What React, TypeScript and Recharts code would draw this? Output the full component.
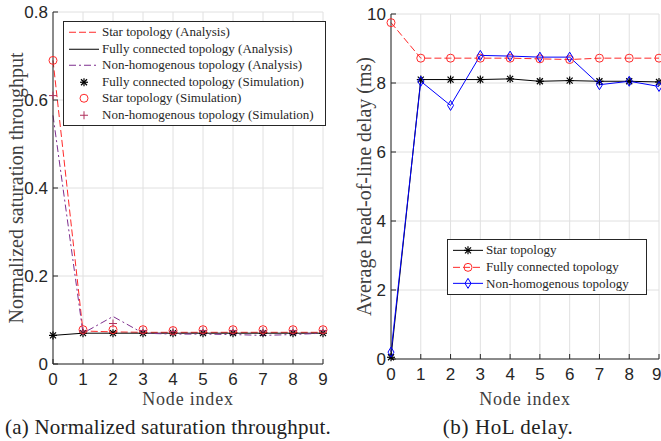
import React from 'react';
import { LineChart, Line, XAxis, YAxis, CartesianGrid, Legend } from 'recharts';

// node indices shared by both panels
const nodes = [0, 1, 2, 3, 4, 5, 6, 7, 8, 9];

// (a) normalized saturation throughput
const starAnalysis = [0.69, 0.075, 0.073, 0.072, 0.072, 0.072, 0.072, 0.072, 0.072, 0.072];
const fullAnalysis = [0.065, 0.07, 0.07, 0.07, 0.07, 0.07, 0.07, 0.07, 0.07, 0.07];
const nonHomAnalysis = [0.565, 0.07, 0.108, 0.07, 0.068, 0.068, 0.067, 0.065, 0.067, 0.07];
const fullSimulation = [0.065, 0.07, 0.07, 0.07, 0.07, 0.07, 0.07, 0.07, 0.07, 0.07];
const starSimulation = [0.69, 0.078, 0.078, 0.078, 0.076, 0.078, 0.078, 0.078, 0.078, 0.078];
const nonHomSimulation = [0.61, 0.075, 0.092, 0.076, 0.074, 0.076, 0.076, 0.075, 0.076, 0.076];
const throughputTicks = [0, 0.2, 0.4, 0.6, 0.8];

// (b) HoL delay (ms)
const starDelay = [0.05, 8.1, 8.1, 8.1, 8.12, 8.05, 8.07, 8.05, 8.05, 8.03];
const fullDelay = [9.75, 8.72, 8.72, 8.72, 8.72, 8.7, 8.68, 8.72, 8.72, 8.72];
const nonHomDelay = [0.2, 8.05, 7.35, 8.8, 8.78, 8.75, 8.75, 7.95, 8.05, 7.9];
const delayTicks = [0, 2, 4, 6, 8, 10];

const throughputData = nodes.map((n, i) => ({
  node: n,
  starA: starAnalysis[i],
  fullA: fullAnalysis[i],
  nonA: nonHomAnalysis[i],
  fullS: fullSimulation[i],
  starS: starSimulation[i],
  nonS: nonHomSimulation[i],
}));

const delayData = nodes.map((n, i) => ({
  node: n,
  star: starDelay[i],
  full: fullDelay[i],
  nonHom: nonHomDelay[i],
}));

const RED = '#ff2a2a';
const PURPLE = '#7e2f8e';
const PLUS = '#b0305c';
const BLUE = '#0000ff';
const AXIS = '#262626';
const GRID = '#e0e0e0';
const SERIF = '"Liberation Serif", "Times New Roman", serif';
const SANS = '"Liberation Sans", Arial, sans-serif';

type MarkerKind = 'asterisk' | 'circle' | 'plus' | 'diamond';

const Marker = ({ kind, cx, cy, color }: { kind: MarkerKind; cx: number; cy: number; color: string }) => {
  const s = 4;
  if (kind === 'circle') return <circle cx={cx} cy={cy} r={s} fill="none" stroke={color} strokeWidth={1} />;
  if (kind === 'diamond')
    return (
      <polygon
        points={`${cx},${cy - s - 1} ${cx + s - 1},${cy} ${cx},${cy + s + 1} ${cx - s + 1},${cy}`}
        fill="none"
        stroke={color}
        strokeWidth={1}
      />
    );
  if (kind === 'plus')
    return (
      <g stroke={color} strokeWidth={1}>
        <line x1={cx - s} y1={cy} x2={cx + s} y2={cy} />
        <line x1={cx} y1={cy - s} x2={cx} y2={cy + s} />
      </g>
    );
  const d = s * 0.75;
  return (
    <g stroke={color} strokeWidth={1.2}>
      <line x1={cx - s} y1={cy} x2={cx + s} y2={cy} />
      <line x1={cx} y1={cy - s} x2={cx} y2={cy + s} />
      <line x1={cx - d} y1={cy - d} x2={cx + d} y2={cy + d} />
      <line x1={cx - d} y1={cy + d} x2={cx + d} y2={cy - d} />
    </g>
  );
};

const dotOf = (kind: MarkerKind, color: string) => (props: any) => {
  const { cx, cy, index } = props;
  if (cx == null || cy == null) return <g key={index} />;
  return <Marker key={index} kind={kind} cx={cx} cy={cy} color={color} />;
};

interface LegendItem {
  label: string;
  color: string;
  dash?: string;
  line: boolean;
  marker?: MarkerKind;
}

const BoxLegend = ({ items, rowH, fontSize }: { items: LegendItem[]; rowH: number; fontSize: number }) => (
  <div
    style={{
      border: `1px solid ${AXIS}`,
      background: '#fff',
      padding: '2px 6px 2px 4px',
      fontFamily: SERIF,
      fontSize,
      color: AXIS,
      boxSizing: 'border-box',
    }}
  >
    {items.map((it) => (
      <div key={it.label} style={{ display: 'flex', alignItems: 'center', height: rowH, whiteSpace: 'nowrap' }}>
        <svg width={32} height={rowH} style={{ marginRight: 2 }}>
          {it.line && (
            <line x1={1} y1={rowH / 2} x2={31} y2={rowH / 2} stroke={it.color} strokeWidth={1} strokeDasharray={it.dash} />
          )}
          {it.marker && <Marker kind={it.marker} cx={16} cy={rowH / 2} color={it.color} />}
        </svg>
        <span>{it.label}</span>
      </div>
    ))}
  </div>
);

const throughputLegend: LegendItem[] = [
  { label: 'Star topology (Analysis)', color: RED, dash: '7 3', line: true },
  { label: 'Fully connected topology (Analysis)', color: '#000', line: true },
  { label: 'Non-homogenous topology (Analysis)', color: PURPLE, dash: '7 3 2 3', line: true },
  { label: 'Fully connected topology (Simulation)', color: '#000', line: false, marker: 'asterisk' },
  { label: 'Star topology (Simulation)', color: RED, line: false, marker: 'circle' },
  { label: 'Non-homogenous topology (Simulation)', color: PLUS, line: false, marker: 'plus' },
];

const delayLegend: LegendItem[] = [
  { label: 'Star topology', color: '#000', line: true, marker: 'asterisk' },
  { label: 'Fully connected topology', color: RED, dash: '7 3', line: true, marker: 'circle' },
  { label: 'Non-homogenous topology', color: BLUE, line: true, marker: 'diamond' },
];

const tickStyle = { fontFamily: SANS, fontSize: 17, fill: AXIS };
const titleStyle = { fontFamily: SERIF, fontSize: 20, fill: '#404040' };
const xTitleStyle = { fontFamily: SERIF, fontSize: 18, letterSpacing: 0.8, fill: '#404040' };

const fmt = (v: number) => (v === 0 ? '0' : String(v));

const App: React.FC = () => {
  return (
    <div style={{ position: 'absolute', left: 0, top: 0, width: 661, height: 441, background: '#fff', overflow: 'hidden' }}>
      <div style={{ position: 'absolute', left: 0, top: 0 }}>
        <LineChart width={330} height={441} data={throughputData} margin={{ top: 12, right: 7, left: 0, bottom: 31 }}>
          <CartesianGrid stroke={GRID} />
          <XAxis
            dataKey="node"
            type="number"
            domain={[0, 9]}
            ticks={nodes}
            tick={tickStyle}
            stroke={AXIS}
            tickSize={-5}
            tickMargin={14}
            height={46}
            label={{ value: 'Node index', position: 'insideBottom', offset: 5, style: xTitleStyle }}
          />
          <XAxis xAxisId="top" orientation="top" dataKey="node" type="number" domain={[0, 9]} ticks={nodes} tick={false} height={0} stroke={AXIS} tickSize={-5} />
          <YAxis
            type="number"
            domain={[0, 0.8]}
            ticks={throughputTicks}
            tickFormatter={fmt}
            tick={tickStyle}
            stroke={AXIS}
            tickSize={-5}
            tickMargin={10}
            width={53}
            label={{ value: 'Normalized saturation throughput', angle: -90, position: 'insideLeft', offset: 16, style: { ...titleStyle, textAnchor: 'middle' } }}
          />
          <YAxis yAxisId="right" orientation="right" type="number" domain={[0, 0.8]} ticks={throughputTicks} tick={false} width={0} stroke={AXIS} tickSize={-5} />
          <Legend
            layout="vertical"
            align="center"
            verticalAlign="middle"
            wrapperStyle={{ left: 63, top: 21, width: 263 }}
            content={() => <BoxLegend items={throughputLegend} rowH={16.5} fontSize={13} />}
          />
          <Line dataKey="starA" stroke={RED} strokeDasharray="7 3" dot={false} isAnimationActive={false} />
          <Line dataKey="fullA" stroke="#000" dot={false} isAnimationActive={false} />
          <Line dataKey="nonA" stroke={PURPLE} strokeDasharray="7 3 2 3" dot={false} isAnimationActive={false} />
          <Line dataKey="fullS" stroke="none" dot={dotOf('asterisk', '#000')} isAnimationActive={false} />
          <Line dataKey="starS" stroke="none" dot={dotOf('circle', RED)} isAnimationActive={false} />
          <Line dataKey="nonS" stroke="none" dot={dotOf('plus', PLUS)} isAnimationActive={false} />
        </LineChart>
      </div>
      <div style={{ position: 'absolute', left: 330, top: 0 }}>
        <LineChart width={331} height={441} data={delayData} margin={{ top: 14, right: 2, left: 0, bottom: 31 }}>
          <CartesianGrid stroke={GRID} />
          <XAxis
            dataKey="node"
            type="number"
            domain={[0, 9]}
            ticks={nodes}
            tick={tickStyle}
            stroke={AXIS}
            tickSize={-5}
            tickMargin={14}
            height={51}
            label={{ value: 'Node index', position: 'insideBottom', offset: 5, style: xTitleStyle }}
          />
          <XAxis xAxisId="top" orientation="top" dataKey="node" type="number" domain={[0, 9]} ticks={nodes} tick={false} height={0} stroke={AXIS} tickSize={-5} />
          <YAxis
            type="number"
            domain={[0, 10]}
            ticks={delayTicks}
            tick={tickStyle}
            stroke={AXIS}
            tickSize={-5}
            tickMargin={10}
            width={61}
            label={{ value: 'Average head-of-line delay (ms)', angle: -90, position: 'insideLeft', offset: 34, style: { ...titleStyle, textAnchor: 'middle' } }}
          />
          <YAxis yAxisId="right" orientation="right" type="number" domain={[0, 10]} ticks={delayTicks} tick={false} width={0} stroke={AXIS} tickSize={-5} />
          <Legend
            layout="vertical"
            align="center"
            verticalAlign="middle"
            wrapperStyle={{ left: 117, top: 239, width: 200 }}
            content={() => <BoxLegend items={delayLegend} rowH={16.7} fontSize={13} />}
          />
          <Line dataKey="star" stroke="#000" dot={dotOf('asterisk', '#000')} isAnimationActive={false} />
          <Line dataKey="full" stroke={RED} strokeDasharray="7 3" dot={dotOf('circle', RED)} isAnimationActive={false} />
          <Line dataKey="nonHom" stroke={BLUE} dot={dotOf('diamond', BLUE)} isAnimationActive={false} />
        </LineChart>
      </div>
      <div style={{ position: 'absolute', left: 0, width: 336, top: 415, textAlign: 'center', fontFamily: SERIF, fontSize: 21, letterSpacing: 0.2, color: '#222' }}>
        (a) Normalized saturation throughput.
      </div>
      <div style={{ position: 'absolute', left: 412, width: 192, top: 415, textAlign: 'center', fontFamily: SERIF, fontSize: 21, letterSpacing: 0.6, color: '#222' }}>
        (b) HoL delay.
      </div>
    </div>
  );
};

export default App;
